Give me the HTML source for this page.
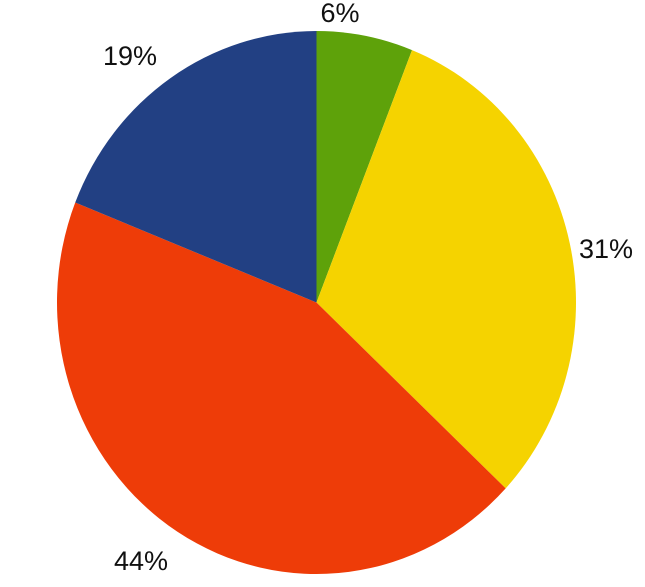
<!DOCTYPE html>
<html><head><meta charset="utf-8"><style>
html,body{margin:0;padding:0;background:#fff;width:645px;height:587px;overflow:hidden}
text{font-family:"Liberation Sans",sans-serif;font-size:27px;fill:#111}
</style></head><body>
<svg id="chart" width="645" height="587" viewBox="0 0 645 587"></svg>
<script>
const categories = ["Green", "Yellow", "Red", "Blue"];
const values = [6, 31, 44, 19];
const colors = ["#5ea20a", "#f5d300", "#ee3c08", "#224083"];
const labelPos = [[340, 22], [606, 258], [141, 570], [130, 65]];
const cx = 316.5, cy = 302.5, rx = 259.5, ry = 271.5;
const svg = document.getElementById('chart');
const NS = 'http://www.w3.org/2000/svg';
const total = values.reduce((a, b) => a + b, 0);
function pt(a) { return [cx + rx * Math.sin(a), cy - ry * Math.cos(a)]; }
let start = 0;
values.forEach((v, i) => {
  const end = start + v / total * 2 * Math.PI;
  const [x1, y1] = pt(start), [x2, y2] = pt(end);
  const large = end - start > Math.PI ? 1 : 0;
  const p = document.createElementNS(NS, 'path');
  p.setAttribute('d', `M${cx},${cy} L${x1},${y1} A${rx},${ry} 0 ${large} 1 ${x2},${y2} Z`);
  p.setAttribute('fill', colors[i]);
  
  
  svg.appendChild(p);
  const t = document.createElementNS(NS, 'text');
  t.setAttribute('x', labelPos[i][0]);
  t.setAttribute('y', labelPos[i][1]);
  t.setAttribute('text-anchor', 'middle');
  t.textContent = v + '%';
  
  
  svg.appendChild(t);
  start = end;
});
</script>
</body></html>
